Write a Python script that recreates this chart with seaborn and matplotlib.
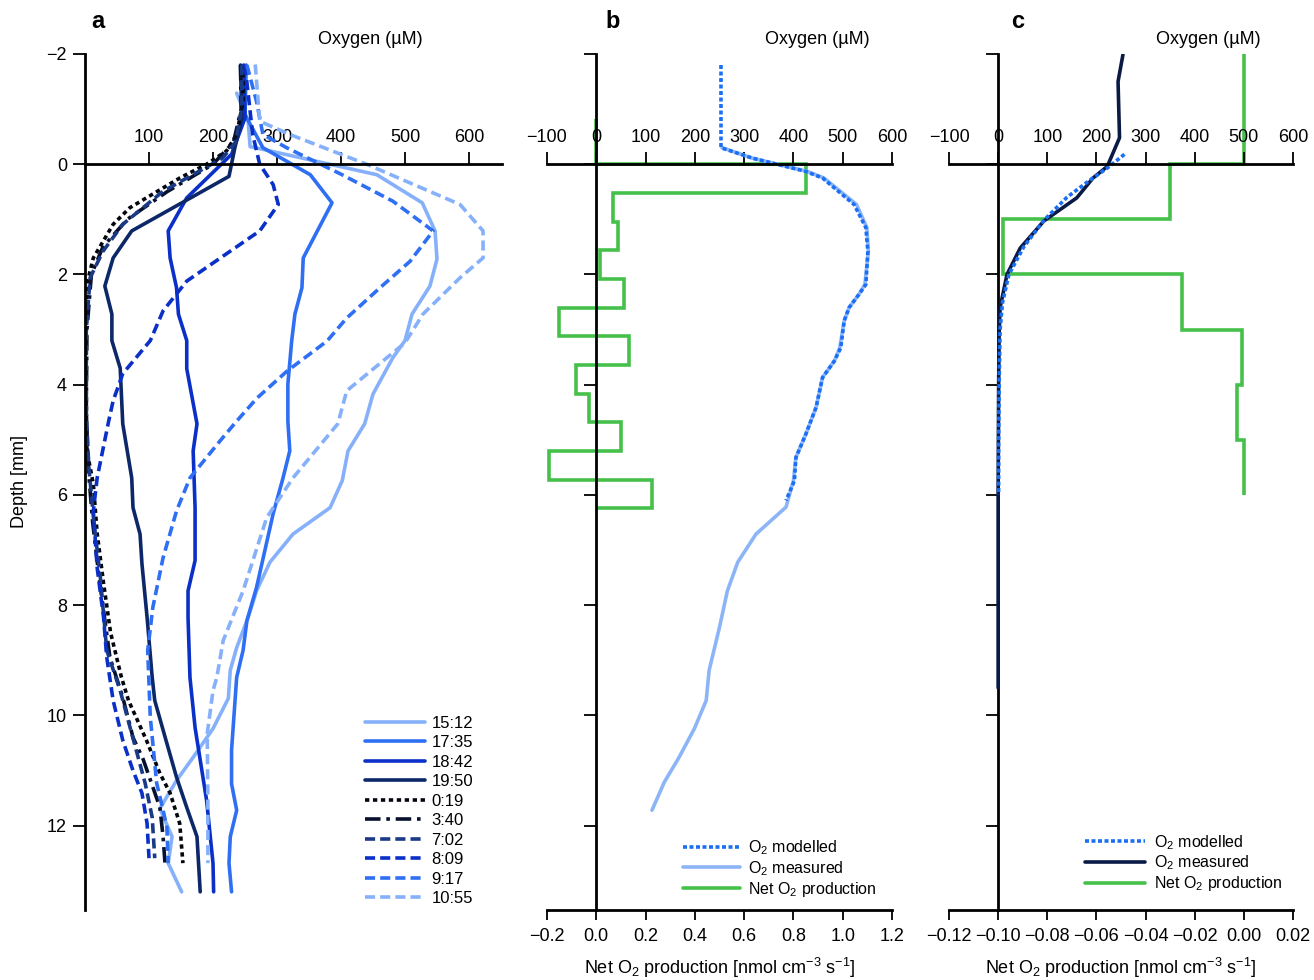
import matplotlib.pyplot as plt
import numpy as np
import pandas as pd
import seaborn as sns
from matplotlib.ticker import FuncFormatter

# ---- panel a: oxygen profiles (depth mm, O2 uM) ----
times = ["15:12", "17:35", "18:42", "19:50", "0:19", "3:40", "7:02", "8:09", "9:17", "10:55"]

depth_1512 = [-1.29, -0.78, -0.32, -0.27, 0.19, 0.70, 1.21, 1.72, 2.21, 2.72, 3.20, 3.51, 4.17, 4.71, 5.20, 5.74, 6.23, 6.71, 7.22, 7.74, 8.22, 8.77, 9.18, 9.69, 10.24, 10.76, 11.18, 11.69, 12.20, 12.68, 13.20]
o2_1512 = [237, 255, 258, 278, 456, 527, 547, 550, 539, 511, 500, 481, 450, 437, 411, 402, 383, 325, 289, 268, 255, 237, 227, 224, 200, 169, 143, 117, 136, 130, 151]

depth_1735 = [-1.8, -0.9, -0.3, 0.19, 0.70, 1.70, 2.24, 2.72, 3.20, 3.99, 4.66, 5.20, 5.71, 6.34, 7.68, 8.28, 8.82, 9.31, 10.63, 11.24, 11.72, 12.20, 12.68, 13.20]
o2_1735 = [252, 250, 278, 352, 386, 341, 339, 328, 323, 317, 317, 320, 309, 294, 268, 253, 247, 237, 229, 229, 237, 227, 225, 229]

depth_1842 = [-1.8, -0.84, -0.18, 0.61, 1.21, 1.70, 2.24, 2.72, 3.20, 3.71, 4.71, 5.20, 6.23, 7.19, 7.74, 8.22, 9.31, 10.22, 11.54, 12.68, 13.20]
o2_1842 = [248, 250, 229, 159, 130, 133, 143, 146, 159, 159, 175, 169, 172, 172, 161, 161, 164, 172, 190, 200, 201]

depth_1950 = [-1.8, -0.84, -0.29, 0.22, 1.21, 1.70, 2.21, 2.72, 3.20, 3.70, 4.71, 5.69, 6.23, 6.71, 7.25, 8.22, 9.31, 9.73, 10.51, 11.12, 11.67, 12.20, 13.20]
o2_1950 = [243, 245, 234, 225, 73, 44, 31, 42, 42, 55, 59, 73, 75, 86, 89, 97, 105, 109, 128, 143, 159, 175, 180]

depth_0019 = [-1.8, -1.14, -0.54, -0.24, 0.0, 0.25, 0.61, 0.79, 1.09, 1.70, 2.17, 3.0, 4.3, 5.2, 5.8, 6.7, 7.6, 8.5, 9.31, 9.73, 10.45, 11.05, 11.41, 11.96, 12.68]
o2_0019 = [247, 247, 237, 221, 190, 148, 96, 70, 44, 13, 3, 2, 2, 3, 13, 19, 29, 40, 57, 68, 96, 117, 133, 148, 153]

depth_0340 = [-1.8, -1.0, -0.4, 0.0, 0.5, 1.0, 1.5, 2.0, 3.0, 4.5, 5.5, 6.5, 7.5, 8.95, 9.67, 10.4, 10.8, 11.3, 11.67, 12.2, 12.68]
o2_0340 = [243, 244, 232, 200, 128, 66, 28, 10, 3, 2, 5, 12, 22, 39, 59, 75, 91, 106, 117, 122, 125]

depth_0702 = [-1.8, -1.0, -0.4, -0.11, 0.49, 1.09, 1.58, 2.06, 3.0, 4.5, 5.5, 6.5, 7.5, 8.82, 9.55, 10.2, 11.23, 11.85, 12.59]
o2_0702 = [245, 245, 235, 215, 122, 59, 28, 8, 2, 2, 6, 14, 24, 34, 55, 70, 94, 105, 109]

depth_0809 = [-1.8, -0.54, 0.0, 0.37, 0.73, 1.21, 2.12, 2.66, 3.2, 3.8, 4.29, 4.66, 5.69, 6.29, 7.32, 8.22, 8.95, 9.73, 10.45, 11.0, 11.41, 11.96, 12.59]
o2_0809 = [250, 262, 273, 294, 302, 273, 159, 122, 102, 59, 44, 37, 19, 13, 19, 29, 34, 44, 59, 75, 89, 97, 100]

depth_0917 = [-1.8, -1.14, -0.54, -0.30, 0.18, 0.67, 1.21, 1.76, 2.24, 2.79, 3.21, 3.75, 4.24, 4.66, 5.02, 5.69, 6.29, 7.14, 8.04, 8.82, 10.03, 11.23, 11.72, 12.03, 12.68]
o2_0917 = [253, 268, 278, 315, 400, 481, 544, 508, 461, 409, 378, 316, 269, 237, 211, 164, 143, 122, 106, 98, 102, 112, 122, 128, 130]

depth_1055 = [-1.81, -0.78, -0.54, 0.0, 0.73, 1.21, 1.70, 2.06, 2.72, 3.24, 4.11, 4.71, 5.69, 6.41, 7.74, 8.64, 9.31, 9.55, 10.33, 11.54, 12.68]
o2_1055 = [266, 273, 320, 440, 586, 622, 622, 586, 528, 500, 409, 395, 325, 284, 247, 216, 206, 200, 191, 192, 192]

# ---- panel b ----
b_edges = [-0.82, 0, 0.52, 1.04, 1.56, 2.08, 2.60, 3.12, 3.64, 4.16, 4.68, 5.20, 5.72, 6.24]
b_net = [0, 0.853, 0.066, 0.088, 0.016, 0.114, -0.150, 0.134, -0.082, -0.028, 0.100, -0.190, 0.226]

b_mod_depth = [-1.8, -0.3, -0.11, 0.13, 0.25, 0.73, 1.15, 1.58, 2.18, 2.36, 2.60, 2.84, 3.33, 3.57, 3.87, 4.41, 4.90, 5.32, 5.74, 6.1]
b_mod_o2 = [253, 253, 317, 425, 459, 523, 547, 551, 547, 533, 513, 503, 496, 483, 459, 446, 425, 405, 402, 385]

b_meas_depth = [-0.3, -0.11, 0.13, 0.25, 0.73, 1.15, 1.58, 2.18, 2.36, 2.60, 2.84, 3.33, 3.57, 3.87, 4.41, 4.90, 5.32, 5.74, 6.22, 6.71, 7.22, 7.74, 8.4, 9.18, 9.73, 10.24, 10.76, 11.21, 11.72]
b_meas_o2 = [255, 317, 428, 462, 528, 549, 552, 545, 533, 513, 503, 494, 483, 459, 446, 425, 405, 400, 385, 324, 287, 266, 250, 229, 223, 199, 168, 138, 113]

# ---- panel c ----
c_edges = [-2, 0, 1, 2, 3, 4, 5, 6]
c_net = [0.0, -0.030, -0.098, -0.025, -0.0008, -0.0029, 0.0]

c_meas_depth = [-1.99, -1.5, -0.48, 0.04, 0.25, 0.61, 1.03, 1.52, 2.0, 2.6, 3.08, 4.0, 6.0, 9.5]
c_meas_o2 = [254, 244, 247, 222, 193, 160, 93, 45, 18, 4, 2, 1, 0, 0]

c_mod_depth = [-0.18, 0.07, 0.3, 0.6, 1.0, 1.5, 2.0, 2.5, 3.0, 4.0, 5.0, 6.0]
c_mod_o2 = [257, 222, 185, 140, 95, 52, 22, 9, 4, 2, 1, 1]

profiles = {
    "15:12": (depth_1512, o2_1512), "17:35": (depth_1735, o2_1735),
    "18:42": (depth_1842, o2_1842), "19:50": (depth_1950, o2_1950),
    "0:19": (depth_0019, o2_0019), "3:40": (depth_0340, o2_0340),
    "7:02": (depth_0702, o2_0702), "8:09": (depth_0809, o2_0809),
    "9:17": (depth_0917, o2_0917), "10:55": (depth_1055, o2_1055),
}
colors = {
    "15:12": "#86b1fa", "17:35": "#2f6ff4", "18:42": "#0a30c8", "19:50": "#0c2868",
    "0:19": "#03060f", "3:40": "#07112e", "7:02": "#1b3a86", "8:09": "#0a30c8",
    "9:17": "#2f6ff4", "10:55": "#86b1fa",
}
styles = {
    "15:12": "-", "17:35": "-", "18:42": "-", "19:50": "-",
    "0:19": (0, (1.2, 1.0)), "3:40": (0, (4.3, 1.6, 1.0, 1.6)),
    "7:02": (0, (2.8, 1.4)), "8:09": (0, (2.8, 1.4)),
    "9:17": (0, (2.8, 1.4)), "10:55": (0, (2.8, 1.4)),
}

GREEN = "#45c04a"
MOD = "#1a6ff5"
LW = 2.6

sns.set_style("ticks", {"axes.edgecolor": "black", "xtick.color": "black", "ytick.color": "black",
                        "text.color": "black", "axes.labelcolor": "black"})
plt.rcParams["font.family"] = ["Liberation Sans", "DejaVu Sans"]
plt.rcParams["mathtext.fontset"] = "custom"
plt.rcParams["mathtext.rm"] = "Liberation Sans"
plt.rcParams["mathtext.default"] = "regular"

W, H = 1314, 980
fig = plt.figure(figsize=(W / 100, H / 100), dpi=100)

def fx(px):
    return px / W

def fy(py):
    return 1 - py / H

top, bot = fy(54), fy(910)
ylim = (13.53, -2)
yt = [-2, 0, 2, 4, 6, 8, 10, 12]
minus_fmt = lambda fmt: FuncFormatter(lambda v, p: fmt.format(v).replace("-", "\u2212"))

# ---------------- panel a ----------------
ax = fig.add_axes([fx(85), bot, fx(502) - fx(85), top - bot])
for t in times:
    d, o = profiles[t]
    sns.lineplot(x=o, y=d, ax=ax, orient="y", sort=False, estimator=None, color=colors[t],
                 linestyle=styles[t], linewidth=LW, label=t, legend=False)
ax.set_xlim(0, 651.6)
ax.set_ylim(*ylim)
ax.spines["top"].set_position(("data", 0))
ax.spines["right"].set_visible(False)
ax.spines["bottom"].set_visible(False)
for s in ["top", "left"]:
    ax.spines[s].set_linewidth(2)
ax.xaxis.set_ticks_position("top")
ax.set_xticks([100, 200, 300, 400, 500, 600])
ax.set_yticks(yt)
ax.yaxis.set_major_formatter(minus_fmt("{:.0f}"))
ax.tick_params(axis="both", direction="out", length=9, width=1.3, labelsize=13, pad=4)
ax.set_xlabel("")
ax.set_ylabel("")
ax.legend(handles=ax.get_lines(), labels=times, loc="upper left", bbox_to_anchor=(0.671, 0.227),
          frameon=False, fontsize=12, handlelength=3.6, handletextpad=0.4, labelspacing=0.27,
          borderpad=0, borderaxespad=0)


def panel(left, right, xl, zero, ticks, fmt, edges, net, lines, legend_x, legend_y, hlen):
    axn = fig.add_axes([fx(left), bot, fx(right) - fx(left), top - bot])
    axn.stairs(net, edges, orientation="horizontal", baseline=0, color=GREEN, linewidth=LW, fill=False)
    axn.set_xlim(*xl)
    axn.set_ylim(*ylim)
    axn.spines["left"].set_position(("data", zero))
    axn.spines["top"].set_visible(False)
    axn.spines["right"].set_visible(False)
    for s in ["left", "bottom"]:
        axn.spines[s].set_linewidth(2)
    axn.set_xticks(ticks)
    axn.xaxis.set_major_formatter(minus_fmt(fmt))
    axn.set_yticks(yt)
    axn.tick_params(axis="y", direction="out", length=9, width=1.3, labelleft=False)
    axn.tick_params(axis="x", direction="out", length=7, width=1.3, labelsize=13, pad=6)
    axn.set_xlabel("Net O$_2$ production [nmol cm$^{-3}$ s$^{-1}$]", fontsize=13, labelpad=8)

    axo = axn.twiny()
    handles = []
    for d, o, c, ls, lab in lines:
        sns.lineplot(x=o, y=d, ax=axo, orient="y", sort=False, estimator=None, color=c,
                     linestyle=ls, linewidth=LW, label=lab, legend=False)
        handles.append(axo.get_lines()[-1])
    axo.set_xlim(-100, 600)
    axo.set_ylim(*ylim)
    axo.spines["top"].set_position(("data", 0))
    axo.spines["top"].set_linewidth(2)
    for s in ["left", "right", "bottom"]:
        axo.spines[s].set_visible(False)
    axo.xaxis.set_ticks_position("top")
    axo.set_xticks([-100, 0, 100, 200, 300, 400, 500, 600])
    axo.tick_params(axis="x", direction="out", length=9, width=1.3, labelsize=13, pad=4)
    axo.set_xlabel("")
    axo.set_ylabel("")
    axn.set_ylabel("")
    green_handle = plt.Line2D([], [], color=GREEN, linewidth=LW)
    hs = [handles[1], handles[0], green_handle]
    labs = [h.get_label() for h in hs[:-1]] + ["Net O$_2$ production"]
    axo.legend(handles=hs, labels=labs, loc="upper left", bbox_to_anchor=(legend_x, legend_y),
               frameon=False, fontsize=11.5, handlelength=hlen, handletextpad=0.55, labelspacing=0.12,
               borderpad=0, borderaxespad=0)
    return axn, axo


# ---------------- panel b ----------------
panel(547, 892, (-0.2, 1.2), 0.0, [-0.2, 0.0, 0.2, 0.4, 0.6, 0.8, 1.0, 1.2], "{:.1f}",
      b_edges, b_net,
      [(b_meas_depth, b_meas_o2, "#8cb5f7", "-", "O$_2$ measured"),
       (b_mod_depth, b_mod_o2, MOD, (0, (1.1, 0.7)), "O$_2$ modelled")],
      0.394, 0.0836, 3.55)

# ---------------- panel c ----------------
panel(949, 1293, (-0.12, 0.02), -0.10, [-0.12, -0.10, -0.08, -0.06, -0.04, -0.02, 0.00, 0.02], "{:.2f}",
      c_edges, c_net,
      [(c_meas_depth, c_meas_o2, "#0b1a45", "-", "O$_2$ measured"),
       (c_mod_depth, c_mod_o2, MOD, (0, (1.1, 0.7)), "O$_2$ modelled")],
      0.395, 0.090, 3.75)

# ---------------- annotations ----------------
for x, lab in [(98, "a"), (613, "b"), (1018, "c")]:
    fig.text(fx(x), fy(22), lab, fontsize=17, fontweight="bold", ha="center", va="center")
for x in [370, 817, 1208]:
    fig.text(fx(x), fy(39), "Oxygen (\u00b5M)", fontsize=13, ha="center", va="center")
fig.text(fx(20), fy(482), "Depth [mm]", fontsize=13, rotation=90, ha="center", va="center")

fig.savefig("out.png", dpi=100)
